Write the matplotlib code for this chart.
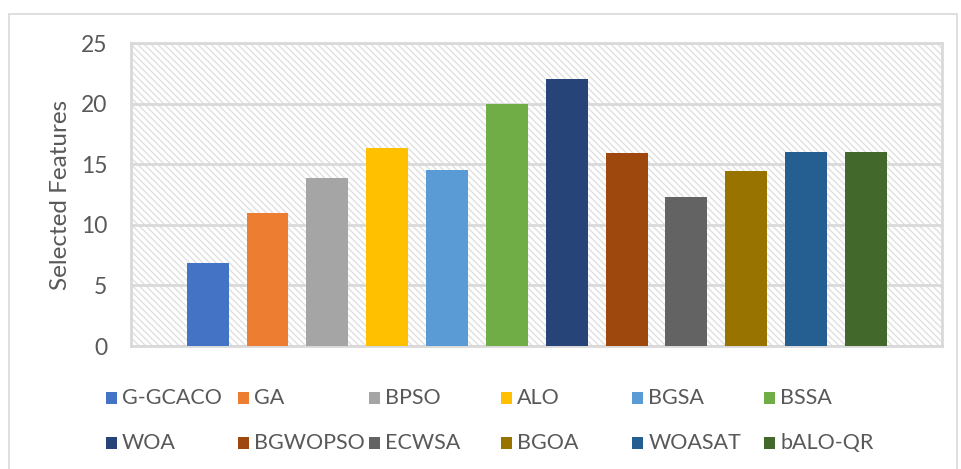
import matplotlib.pyplot as plt
from matplotlib.patches import Rectangle

# feature counts per algorithm
algorithms = ["G-GCACO", "GA", "BPSO", "ALO", "BGSA", "BSSA",
              "WOA", "BGWOPSO", "ECWSA", "BGOA", "WOASAT", "bALO-QR"]
selected_features = [6.85, 10.97, 13.86, 16.33, 14.5, 20.0,
                     22.0, 15.9, 12.3, 14.42, 16.0, 16.0]
bar_colors = ["#4472C4", "#ED7D31", "#A5A5A5", "#FFC000", "#5B9BD5", "#70AD47",
              "#264478", "#9E480E", "#636363", "#997300", "#255E91", "#43682B"]
y_ticks = [0, 5, 10, 15, 20, 25]

W, H = 961, 469
TEXT = "#595959"
GRID = "#d9d9d9"

plt.rcParams["font.family"] = ["Lato", "DejaVu Sans"]
plt.rcParams["hatch.linewidth"] = 1.0

fig = plt.figure(figsize=(W / 100, H / 100), dpi=100)
ax = fig.add_axes([131 / W, 1 - 346 / H, (942 - 131) / W, (346 - 43) / H])

# hatched plot area background
ax.add_patch(Rectangle((0, 0), 1, 1, transform=ax.transAxes, facecolor="white",
                       edgecolor="#e0e0e0", hatch="\\" * 5, lw=0, zorder=0))

x = range(len(algorithms))
ax.bar(x, selected_features, width=0.7, color=bar_colors, zorder=3)

ax.set_xlim(-1.28, 11 + 1.27)
ax.set_ylim(0, 25)
ax.set_yticks(y_ticks)
ax.set_xticks([])
ax.yaxis.grid(True, color=GRID, lw=2)
for line in ax.get_ygridlines():
    line.set_zorder(1)
ax.tick_params(axis="y", length=0, pad=17, labelsize=16.5, labelcolor=TEXT)
for s in ax.spines.values():
    s.set_color(GRID)
    s.set_linewidth(2)
    s.set_zorder(2)
ax.set_ylabel("Selected Features", fontsize=17.5, color=TEXT, labelpad=7)

# manual legend: two rows of six entries
for i, (name, c) in enumerate(zip(algorithms, bar_colors)):
    col, row = i % 6, i // 6
    px = 106 + col * 131.6
    py = 398 + row * 45
    fig.patches.append(Rectangle((px / W, 1 - (py + 6) / H), 11 / W, 12 / H,
                                 transform=fig.transFigure, facecolor=c, lw=0))
    fig.text((px + 16) / W, 1 - py / H, name, fontsize=15.5, color=TEXT,
             va="center", ha="left")

# chart frame
fig.patches.append(Rectangle((9 / W, -0.05), (957 - 9) / W, 1.05 - 14 / H,
                             transform=fig.transFigure, facecolor="none",
                             edgecolor=GRID, lw=1.2))

fig.savefig("out.png", dpi=100)
